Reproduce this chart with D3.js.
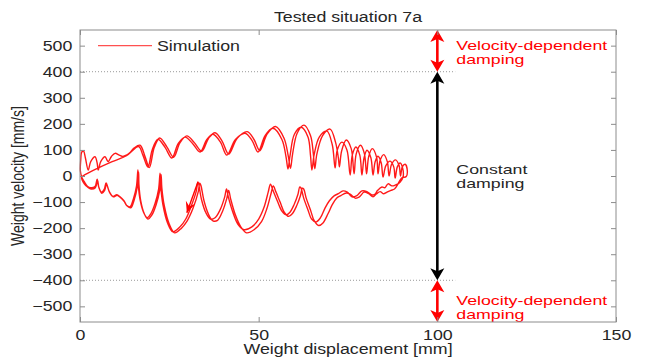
<!DOCTYPE html>
<html>
<head>
<meta charset="utf-8">
<script src="https://cdn.jsdelivr.net/npm/d3@7"></script>
<style>
  body { margin: 0; background: #fff; }
  svg { display: block; }
  text { font-family: "Liberation Sans", Arial, Helvetica, sans-serif; }
</style>
</head>
<body>
<svg id="chart" width="646" height="360"></svg>
<script>
// Axis limits and ticks
const xLimits = [0, 150];
const yLimits = [-560, 560];
const xTicks = [0, 50, 100, 150];
const yTicks = [-500, -400, -300, -200, -100, 0, 100, 200, 300, 400, 500];

// Damping regime boundaries (velocity, mm/s) and where the regime arrows sit
const dampingLimits = [400, -400];
const regimeX = 100;
const guideEndX = 105;

// Simulated phase trajectory [displacement mm, velocity mm/s]
// first stroke out (from rest)
const upperA = [[0.3,-5],[1.4,5],[5,30],[9,55],[13,78],[16.4,113],[17.6,80],[19.0,34],[20.2,100],[21.8,141],[23.8,110],[25.7,69],[27.5,125],[29.4,149],[31.5,125],[33.6,92],[35.5,140],[37.2,160],[39.3,130],[41.1,80],[43.5,140],[46.2,164],[48.2,135],[49.8,92],[51.8,155],[54.0,183],[56.5,140],[57.7,70],[58.2,27],[58.8,80],[60.0,160],[61.9,187],[63.8,150],[64.5,80],[64.9,23],[65.5,80],[67.0,150],[69.1,172],[70.6,120],[71.4,31],[72.0,100],[73.3,130],[74.7,100],[75.6,4],[76.2,80],[77.2,111],[78.3,80],[78.9,4],[79.5,70],[80.3,99],[81.4,70],[82.0,4],[82.6,55],[83.4,76],[84.3,50],[84.8,-4],[85.6,40],[86.8,57],[87.8,35],[88.2,-8],[88.8,35],[89.6,50],[90.3,30],[90.4,-4]];
// first stroke back
const lowerA = [[89.5,-25],[88.2,-35],[87.3,-38],[86.2,-30],[85.3,-45],[84.5,-42],[83.3,-55],[82.5,-70],[81.7,-73],[80.3,-60],[78.9,-57],[77.5,-75],[76.1,-80],[74.8,-62],[73.6,-57],[72.3,-68],[71.1,-76],[69.8,-95],[68.6,-122],[67.3,-160],[66.1,-176],[64.8,-165],[63.8,-130],[62.6,-85],[61.8,-45],[61.5,-42],[61.0,-70],[59.9,-110],[58.7,-140],[57.7,-149],[56.5,-135],[55.2,-95],[54.0,-55],[53.3,-31],[52.7,-60],[51.5,-120],[50.0,-165],[48.1,-195],[45.9,-206],[44.2,-185],[42.8,-140],[41.5,-80],[41.0,-50],[40.5,-80],[39.2,-130],[37.8,-160],[36.5,-165],[35.2,-140],[34.0,-90],[33.2,-30],[33.0,-23],[32.5,-60],[31.0,-120],[29.6,-165],[28.0,-195],[26.0,-214],[24.5,-180],[23.2,-110],[22.6,-40],[22.4,11],[22.0,-50],[21.0,-105],[19.8,-145],[18.8,-160],[17.8,-140],[16.8,-90],[16.3,-30],[16.2,23],[15.8,-40],[15.0,-85],[14.0,-118],[13.0,-112],[12.3,-95],[11.2,-80],[10.3,-72],[9.2,-78],[8.2,-60],[7.3,-27],[6.8,-50],[6.0,-62],[5.2,-40],[4.8,-12],[4.2,-40],[3.0,-45],[2.0,-38],[1.2,-22],[0.5,-5]];
// second stroke out
const upperB = [[0.1,20],[0.2,60],[0.5,92],[1.0,95],[1.5,70],[2.3,23],[3.0,55],[4.2,74],[4.8,50],[5.1,23],[5.8,55],[7.0,74],[7.6,60],[7.9,55],[8.8,75],[9.8,87],[11.0,80],[12.0,75],[13.0,80],[14.0,90],[15.2,108],[16.8,118],[18.2,75],[19.4,32],[20.8,110],[22.3,146],[24.3,112],[26.2,72],[28.0,128],[29.9,154],[32.0,128],[34.1,95],[36.0,145],[37.8,166],[39.8,133],[41.6,84],[44.0,145],[46.8,170],[48.7,140],[50.3,97],[52.4,162],[54.7,190],[57.1,145],[58.3,75],[58.9,30],[59.5,85],[60.8,165],[62.7,195],[64.5,155],[65.3,85],[65.7,28],[66.3,85],[67.9,155],[70.0,180],[71.5,130],[72.3,70],[72.6,35],[73.2,95],[74.5,138],[75.9,105],[76.7,8],[77.3,85],[78.5,118],[79.6,85],[80.2,8],[80.8,75],[81.8,105],[83.0,72],[83.4,8],[84.0,60],[85.0,82],[86.0,55],[86.5,0],[87.2,45],[88.3,62],[89.3,40],[89.7,0],[90.2,35],[91.0,45],[91.6,20],[91.3,-2],[90.0,-8]];
// second stroke back
const lowerB = [[89.0,-30],[88.0,-50],[87.0,-55],[86.2,-60],[85.0,-68],[84.0,-60],[83.0,-68],[82.0,-80],[80.8,-68],[79.5,-62],[78.2,-80],[77.0,-85],[75.7,-70],[74.5,-65],[73.0,-75],[71.8,-85],[70.6,-110],[69.4,-145],[68.0,-180],[66.8,-190],[65.5,-170],[64.5,-130],[63.3,-85],[62.6,-50],[62.2,-47],[61.7,-75],[60.6,-115],[59.4,-145],[58.4,-155],[57.2,-140],[56.0,-100],[54.8,-60],[54.1,-38],[53.5,-65],[52.3,-125],[50.8,-175],[48.8,-205],[46.6,-218],[45.0,-195],[43.5,-150],[42.2,-90],[41.6,-55],[41.1,-85],[39.9,-135],[38.5,-170],[37.2,-172],[35.9,-145],[34.7,-95],[33.8,-35],[33.5,-28],[33.1,-60],[31.6,-125],[30.0,-172],[28.4,-200],[26.5,-218],[25.0,-185],[23.6,-115],[22.9,-45],[22.7,5],[22.3,-55],[21.3,-110],[20.1,-150],[19.0,-165],[18.0,-145],[17.0,-95],[16.5,-35],[16.4,15],[16.0,-45],[15.2,-90],[14.2,-122],[13.2,-115],[12.4,-98],[11.3,-82],[10.4,-74],[9.3,-80],[8.3,-64],[7.4,-32],[6.9,-55],[6.1,-66],[5.3,-45],[4.9,-16],[4.3,-45],[3.1,-50],[2.1,-42],[1.2,-30],[0.6,-15],[0.4,-5]];

// Direction marker on the return stroke
const directionFrom = [33.0, -23];
const directionTo = [29.9, -141];

const seriesName = "Simulation";
const titleText = "Tested situation 7a";
const xLabel = "Weight displacement [mm]";
const yLabel = "Weight velocity [mm/s]";
const regimeLabels = [["Velocity-dependent", "damping"], ["Constant", "damping"], ["Velocity-dependent", "damping"]];

// ---------------------------------------------------------------
const W = 646, H = 360;
const margin = { left: 80, right: 30, top: 30, bottom: 38 };
const SX = 1.27;               // horizontal stretch of all lettering
const FONT = 14;
const RED = "#ff0000";
const INK = "#262626";

const svg = d3.select("#chart");
const x = d3.scaleLinear().domain(xLimits).range([margin.left, W - margin.right]);
const y = d3.scaleLinear().domain(yLimits).range([H - margin.bottom, margin.top]);

function label(g, px, py, str, anchor, color, extra, size, sx) {
  return g.append("text")
    .attr("transform", `translate(${px},${py}) scale(${sx || SX},1)` + (extra || ""))
    .attr("text-anchor", anchor)
    .attr("font-size", size || FONT)
    .attr("fill", color)
    .text(str);
}

// dotted guides at the damping limits
svg.append("g").selectAll("line").data(dampingLimits).join("line")
  .attr("x1", x(xLimits[0])).attr("x2", x(guideEndX))
  .attr("y1", d => y(d)).attr("y2", d => y(d))
  .attr("stroke", "#9a9a9a").attr("stroke-width", 1)
  .attr("stroke-dasharray", "1,2");

// trajectory
const path = [].concat(upperA, lowerA, upperB, lowerB);
const line = d3.line().x(d => x(d[0])).y(d => y(d[1])).curve(d3.curveCatmullRom.alpha(0.5));
svg.append("path").datum(path)
  .attr("d", line)
  .attr("fill", "none")
  .attr("stroke", RED)
  .attr("stroke-width", 1.4)
  .attr("stroke-opacity", 0.9)
  .attr("stroke-linejoin", "round");

// direction arrow
{
  const x0 = x(directionFrom[0]), y0 = y(directionFrom[1]);
  const x1 = x(directionTo[0]), y1 = y(directionTo[1]);
  svg.append("line").attr("x1", x0).attr("y1", y0).attr("x2", x1).attr("y2", y1)
    .attr("stroke", RED).attr("stroke-width", 1.4);
  const ang = Math.atan2(y1 - y0, x1 - x0) * 180 / Math.PI;
  svg.append("path")
    .attr("d", "M0,0 L-11,-5 L-7,0 L-11,5 Z")
    .attr("transform", `translate(${x1},${y1}) rotate(${ang})`)
    .attr("fill", RED);
}

// regime arrows
function dblArrow(v0, v1, color) {
  const ya = y(v0), yb = y(v1);   // ya top, yb bottom
  const g = svg.append("g");
  const head = "M0,0 L-7,12 L0,9 L7,12 Z";
  g.append("line").attr("x1", x(regimeX)).attr("x2", x(regimeX))
    .attr("y1", ya + 8).attr("y2", yb - 8)
    .attr("stroke", color).attr("stroke-width", 2.6);
  g.append("path").attr("d", head).attr("fill", color)
    .attr("transform", `translate(${x(regimeX)},${ya})`);
  g.append("path").attr("d", head).attr("fill", color)
    .attr("transform", `translate(${x(regimeX)},${yb}) rotate(180)`);
}
dblArrow(yLimits[1], dampingLimits[0], RED);
dblArrow(dampingLimits[0], dampingLimits[1], "#000");
dblArrow(dampingLimits[1], yLimits[0], RED);

// regime labels: two tightly spaced lines each
const labelX = x(regimeX) + 19;
const labelTops = [50, 174, 305];
const labelColors = [RED, INK, RED];
const LINE_GAP = 13.5;
regimeLabels.forEach((rows, i) => {
  rows.forEach((s, j) => {
    svg.append("text")
      .attr("transform", `translate(${labelX},${labelTops[i] + j * LINE_GAP}) scale(1.48,1)`)
      .attr("font-size", 12)
      .attr("fill", labelColors[i])
      .text(s);
  });
});

// frame
svg.append("rect")
  .attr("x", x(xLimits[0])).attr("y", y(yLimits[1]))
  .attr("width", x(xLimits[1]) - x(xLimits[0]))
  .attr("height", y(yLimits[0]) - y(yLimits[1]))
  .attr("fill", "none").attr("stroke", "#8c8c8c").attr("stroke-width", 1);

// axes (inward ticks on every side)
function styleAxis(g) {
  g.select(".domain").remove();
  g.selectAll(".tick line").attr("stroke", "#8c8c8c");
  g.selectAll(".tick text").attr("fill", INK).attr("font-size", FONT)
    .attr("font-family", "Liberation Sans, Arial, sans-serif");
}
const gx = svg.append("g").attr("transform", `translate(0,${y(yLimits[0])})`)
  .call(d3.axisBottom(x).tickValues(xTicks).tickSize(-5).tickPadding(8).tickFormat(d3.format("d")))
  .call(styleAxis);
gx.selectAll(".tick text").attr("transform", `scale(${SX},1)`);
svg.append("g").attr("transform", `translate(0,${y(yLimits[1])})`)
  .call(d3.axisTop(x).tickValues(xTicks).tickSize(-5).tickFormat(""))
  .call(styleAxis);
const gy = svg.append("g").attr("transform", `translate(${x(xLimits[0])},0)`)
  .call(d3.axisLeft(y).tickValues(yTicks).tickSize(-5).tickPadding(6).tickFormat(d3.format("d")))
  .call(styleAxis);
gy.selectAll(".tick text").attr("transform", `scale(${SX},1)`);
svg.append("g").attr("transform", `translate(${x(xLimits[1])},0)`)
  .call(d3.axisRight(y).tickValues(yTicks).tickSize(-5).tickFormat(""))
  .call(styleAxis);

// legend
svg.append("line").attr("x1", 98).attr("x2", 152).attr("y1", y(500)).attr("y2", y(500))
  .attr("stroke", "#ff5050").attr("stroke-width", 1.2);
label(svg, 157, y(500) + 5, seriesName, "start", INK);

// titles
const cx = (x(xLimits[0]) + x(xLimits[1])) / 2;
label(svg, cx, 22, titleText, "middle", INK);
label(svg, cx, 354, xLabel, "middle", INK);
label(svg, 24, y(0), yLabel, "middle", INK, " rotate(-90)");
</script>
</body>
</html>
